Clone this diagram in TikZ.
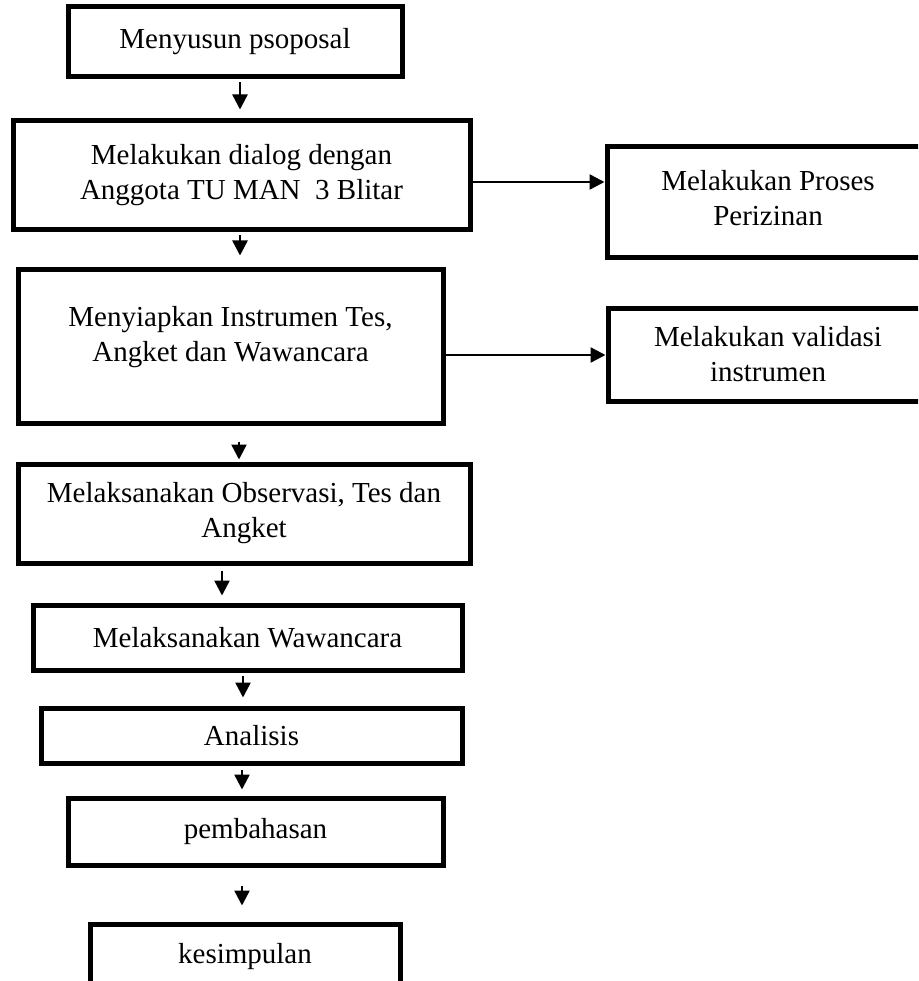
\documentclass[tikz,border=0pt]{standalone}
\usepackage{fontspec}
\setmainfont{Liberation Serif}
\usetikzlibrary{arrows.meta}

\tikzset{
  box/.style={draw, line width=5pt, align=center, inner sep=0pt,
    font=\fontsize{29}{35}\selectfont},
  arr/.style={line width=2.5pt, -{Triangle[length=15pt,width=15pt]}},
}

\begin{document}
\begin{tikzpicture}[x=1pt,y=-1pt]
  % Page frame
  \useasboundingbox (0,0) rectangle (918,981);
  \clip (0,0) rectangle (918,981);

  % Main column
  \node[box, minimum width=334pt, minimum height=70pt] (n1) at (235,42) {Menyusun psoposal};
  \node[box, minimum width=457pt, minimum height=109pt] (n2) at (241.5,175.5) {Melakukan dialog dengan\\ Anggota TU MAN\ \ 3 Blitar};
  \node[box, minimum width=425pt, minimum height=153pt] (n3) at (230.5,346.5) {Menyiapkan Instrumen Tes,\\ Angket dan Wawancara\\[-9pt]\mbox{}};
  \node[box, minimum width=452pt, minimum height=99pt] (n4) at (244,513.5) {Melaksanakan Observasi, Tes dan\\ Angket};
  \node[box, minimum width=429pt, minimum height=65pt] (n5) at (247.5,637.5) {Melaksanakan Wawancara};
  \node[box, minimum width=421pt, minimum height=55pt] (n6) at (251.5,735.5) {Analisis};
  \node[box, minimum width=375pt, minimum height=67pt] (n7) at (255.5,831.5) {pembahasan};
  \node[box, minimum width=310pt, minimum height=66pt] (n8) at (245,957) {kesimpulan};

  % Side boxes
  \node[box, minimum width=322pt, minimum height=111pt] (r1) at (768,202.5) {Melakukan Proses\\ Perizinan\\[-25pt]\mbox{}};
  \node[box, minimum width=320pt, minimum height=93pt] (r2) at (768,354.5) {Melakukan validasi\\ instrumen};

  % Arrows down the column
  \foreach \a/\b/\dx/\s/\e in {n1/n2/5/3/9, n2/n3/-1.5/3/12, n3/n4/8.5/16/2,
      n4/n5/-22/5/7, n5/n6/-4.5/3/8, n6/n7/-9.5/4/6, n7/n8/-13.5/18/16} {
    \draw[arr, shorten <=\s pt, shorten >=\e pt]
      ([xshift=\dx pt]\a.south) -- ([xshift=\dx pt]\a.south |- \b.north);
  }

  % Arrows to the side boxes
  \draw[arr] ([yshift=-6.5pt]n2.east) -- ([yshift=-6.5pt]n2.east -| r1.west);
  \draw[arr] ([yshift=-8.5pt]n3.east) -- ([yshift=-8.5pt]n3.east -| r2.west);
\end{tikzpicture}
\end{document}
